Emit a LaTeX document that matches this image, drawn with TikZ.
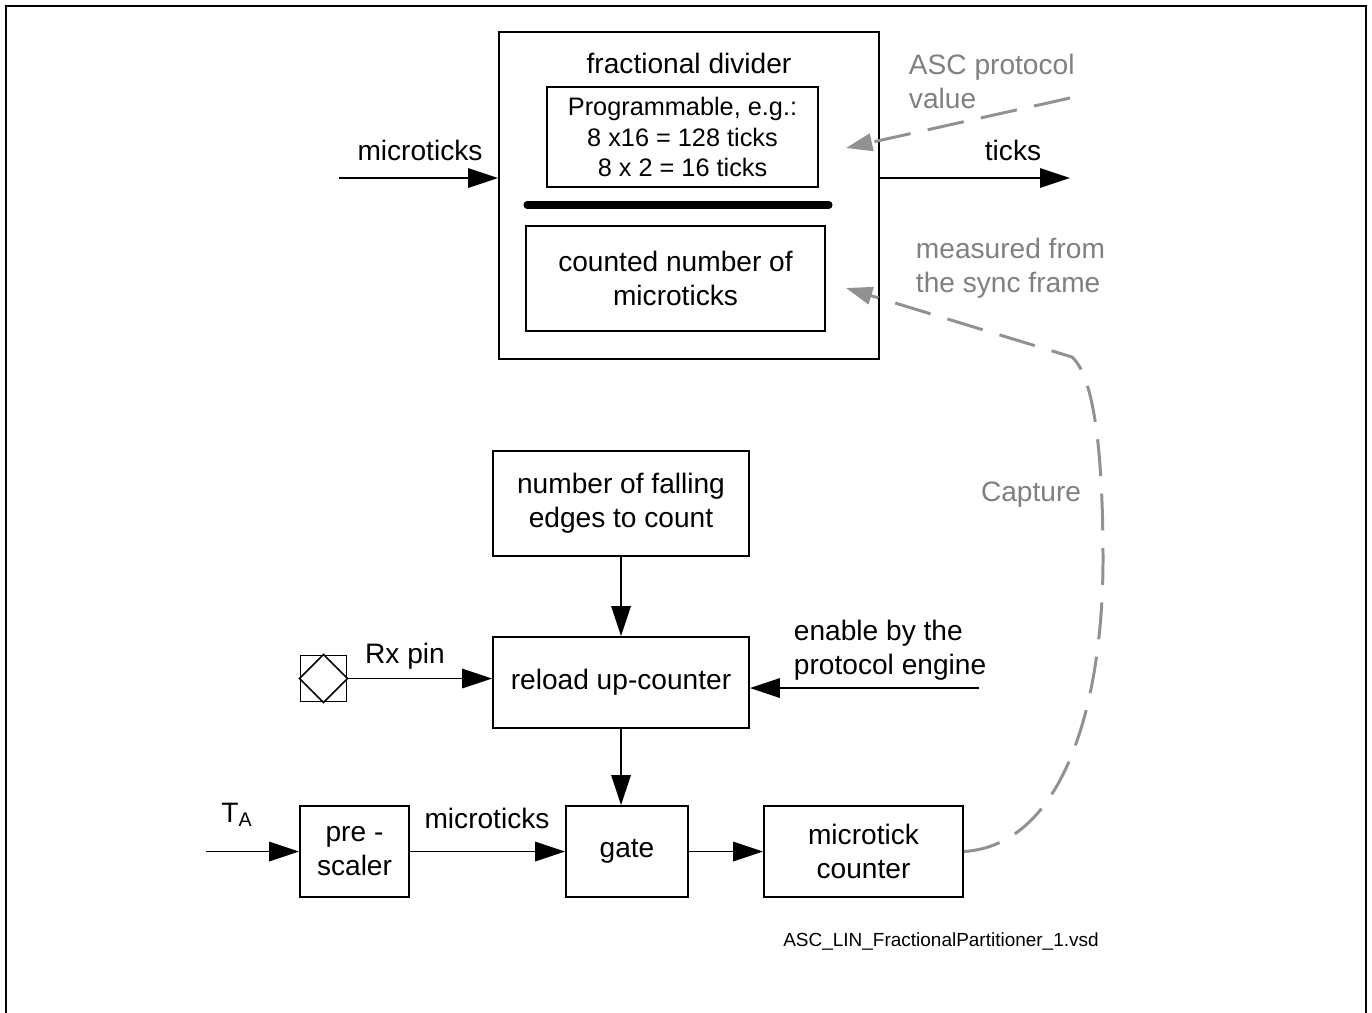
\documentclass[tikz,border=0pt]{standalone}
\usepackage{fontspec}
\setmainfont{Liberation Sans}
\usepackage{tikz}
\usetikzlibrary{shapes,arrows,fit,positioning,arrows.meta}
\definecolor{signalgray}{RGB}{145,145,145}
\definecolor{labelgray}{RGB}{128,128,128}

\begin{document}
\begin{tikzpicture}[x=0.02cm, y=-0.02cm, line width=1.1pt, >={Triangle[length=17pt,width=11pt]}, every node/.style={font=\fontsize{16}{19.3}\selectfont, inner sep=0pt}]
	\tikzstyle{block_style}=[rectangle, draw, align=center, line width=1.1pt]
	\tikzstyle{gray_style}=[text=labelgray, align=left, anchor=west]
	\tikzstyle{dashed_style}=[draw=signalgray, line width=1.7pt, dash pattern=on 21pt off 10pt, -{Triangle[length=15pt,width=10pt]}]

	\useasboundingbox (0,0) rectangle (1372,1012);
	% frame, open at the bottom
	\draw (6,1040) -- (6,6) -- (1366,6) -- (1366,1040);

	% fractional divider
	\node at (689, 195.5) [block_style, minimum width=7.6cm, minimum height=6.54cm] (divider) {};
	\node at (689, 63) [] (divider_title) {fractional divider};
	\node at (682.5, 137) [block_style, minimum width=5.42cm, minimum height=2cm, font=\fontsize{14.4}{17.3}\selectfont] (programmable) {Programmable, e.g.:\\8 x16 = 128 ticks\\8 x 2 = 16 ticks};
	\draw[line width=4pt, line cap=round] (527, 205) -- (829, 205);
	\node at (675.5, 278.5) [block_style, minimum width=5.98cm, minimum height=2.1cm] (counted) {counted number of\\microticks};

	% inputs / output of the divider
	\coordinate (mt_in) at (339, 178);
	\coordinate (ticks_out) at (1070, 178);
	\node at (420, 150) [] (mt_label) {microticks};
	\node at (1013, 150) [] (ticks_label) {ticks};
	\coordinate (asc_src) at (1070, 98);
	\coordinate (asc_tip) at (846, 148);
	\coordinate (meas_tip) at (846, 288);
	\node at (908, 81) [gray_style] (asc_label) {ASC protocol\\value};
	\node at (915, 268) [gray_style] (meas_label) {measured from\\the sync frame};
	\node at (1031, 495) [text=labelgray] (capture_label) {Capture};

	% reload counter
	\node at (621, 503.5) [block_style, minimum width=5.12cm, minimum height=2.1cm] (falling) {number of falling\\edges to count};
	\node at (621, 682.5) [block_style, minimum width=5.12cm, minimum height=1.82cm] (reload) {reload up-counter};
	\node at (323.5, 678.5) [block_style, minimum width=0.92cm, minimum height=0.92cm] (rx_pin) {};
	\draw[line width=0.9pt] (rx_pin.north) -- (rx_pin.east) -- (rx_pin.south) -- (rx_pin.west) -- cycle;
	\node at (405, 656) [] (rx_label) {Rx pin};
	\coordinate (en_in) at (979, 688);
	\node at (793, 650) [anchor=west, align=left] (en_label) {enable by the\\protocol engine};

	% counting chain
	\coordinate (ta_in) at (206, 851.5);
	\node at (237, 815) [] (ta_label) {T\textsubscript{A}};
	\node at (354.5, 851.5) [block_style, minimum width=2.18cm, minimum height=1.82cm] (prescaler) {pre -\\scaler};
	\node at (627, 851.5) [block_style, minimum width=2.44cm, minimum height=1.82cm] (gate) {gate};
	\node at (863.5, 851.5) [block_style, minimum width=3.98cm, minimum height=1.82cm] (mcnt) {microtick\\counter};
	\node at (487, 818) [] (mt2_label) {microticks};

	\node at (941, 941) [font=\fontsize{10.8}{13}\selectfont] (file_label) {ASC\_LIN\_FractionalPartitioner\_1.vsd};

	% connect: divider in / out
	\path[->] (mt_in) edge (mt_in -| divider.west);
	\path[->] (divider.east |- ticks_out) edge (ticks_out);
	\draw[dashed_style] (asc_src) -- (asc_tip);

	% connect: falling -> reload -> gate
	\path[->] (falling.south -| reload.south) edge (reload.north);
	\path[->] (rx_pin.east) edge (rx_pin.east -| reload.west);
	\path[->] (en_in) edge (en_in -| reload.east);
	\path[->] (reload.south) edge (reload.south |- gate.north);

	% connect: chain
	\path[->] (ta_in) edge (prescaler.west);
	\path[->] (prescaler) edge (gate);
	\path[->] (gate) edge (mcnt);

	% capture back into the divider
	\draw[dashed_style] (mcnt.east) .. controls (1065, 845) and (1103, 700) .. (1103, 560) .. controls (1103, 440) and (1092, 375) .. (1072, 357) -- (meas_tip);
\end{tikzpicture}
\end{document}
